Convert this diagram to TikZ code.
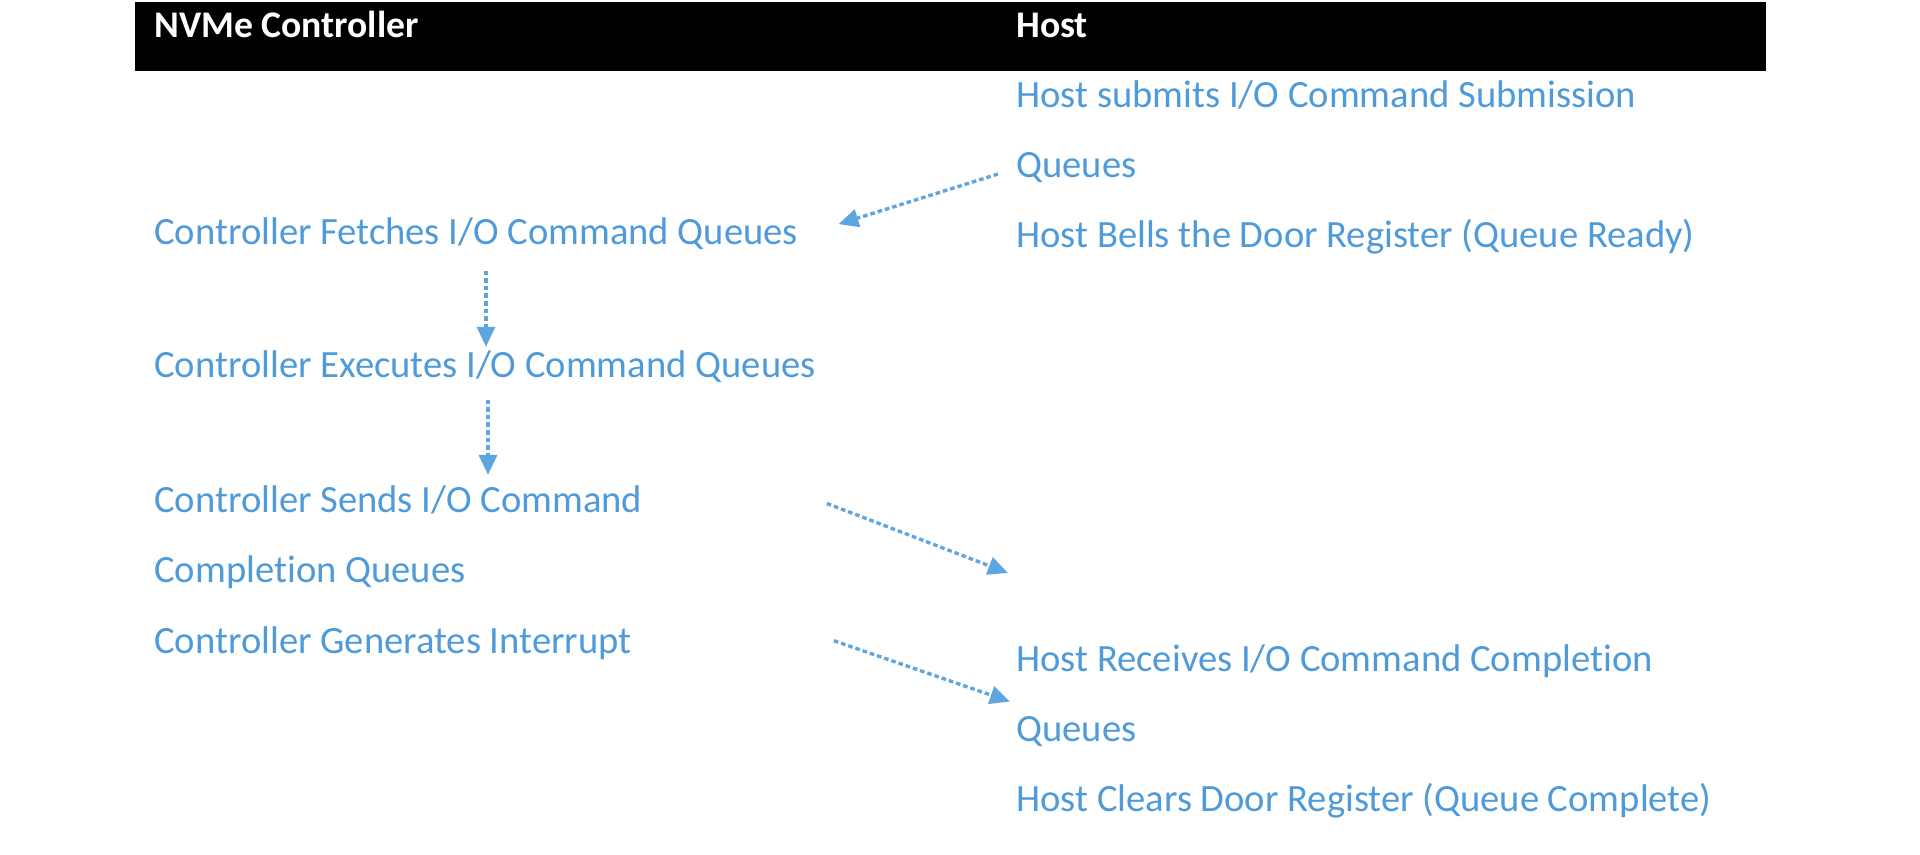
\documentclass[tikz,border=0pt]{standalone}
\usepackage{fontspec}
\setmainfont{Carlito}[Ligatures=NoCommon]
\usetikzlibrary{arrows.meta}
\definecolor{qblue}{HTML}{4F9AD8}
\definecolor{qarrow}{HTML}{5FA6E0}
\tikzset{
  txt/.style={anchor=base west,inner sep=0pt,text=qblue,font=\fontsize{19.3}{21}\selectfont},
  head/.style={anchor=base west,inner sep=0pt,text=white,font=\fontsize{18.8}{21}\selectfont\bfseries},
  flow/.style={draw=qarrow,line width=1.7pt,dash pattern=on 2.3pt off 1.5pt,
    -{Triangle[length=10pt,width=9pt]}}
}
\begin{document}
\begin{tikzpicture}[x=0.5pt,y=-0.5pt]
\useasboundingbox (0,0) rectangle (1920,855);
\fill[black] (135,2) rectangle (1766,71);
\node[head] (nvme) at (154,38) {NVMe Controller};
\node[head] (host) at (1016,38) {Host};

% host side
\node[txt] (h1) at (1016,108) {Host submits I/O Command Submission};
\node[txt] (h2) at (1016,178) {Queues};
\node[txt] (h3) at (1016,248) {Host Bells the Door Register (Queue Ready)};
\node[txt] (h4) at (1016,671) {Host Receives I/O Command Completion};
\node[txt] (h5) at (1016,741) {Queues};
\node[txt] (h6) at (1016,811) {Host Clears Door Register (Queue Complete)};

% controller side
\node[txt] (c1) at (154,245) {Controller Fetches I/O Command Queues};
\node[txt] (c2) at (154,378) {Controller Executes I/O Command Queues};
\node[txt] (c3) at (154,512) {Controller Sends I/O Command};
\node[txt] (c4) at (154,582) {Completion Queues};
\node[txt] (c5) at (154,653) {Controller Generates Interrupt};
\coordinate (cq) at (1008,573);

\draw[flow] ([shift={(-9pt,-3pt)}]h2.west) -- ([shift={(20pt,5pt)}]c1.east);
\draw[flow] ([shift={(166pt,-10pt)}]c1.south west) -- ([shift={(166pt,2pt)}]c2.north west);
\draw[flow] ([shift={(167pt,-8pt)}]c2.south west) -- ([shift={(167pt,5pt)}]c3.north west);
\draw[flow] ([shift={(92pt,-2pt)}]c3.east) -- (cq);
\draw[flow] ([shift={(101pt,1pt)}]c5.east) -- ([shift={(-3pt,-12pt)}]h4.south west);
\end{tikzpicture}
\end{document}
